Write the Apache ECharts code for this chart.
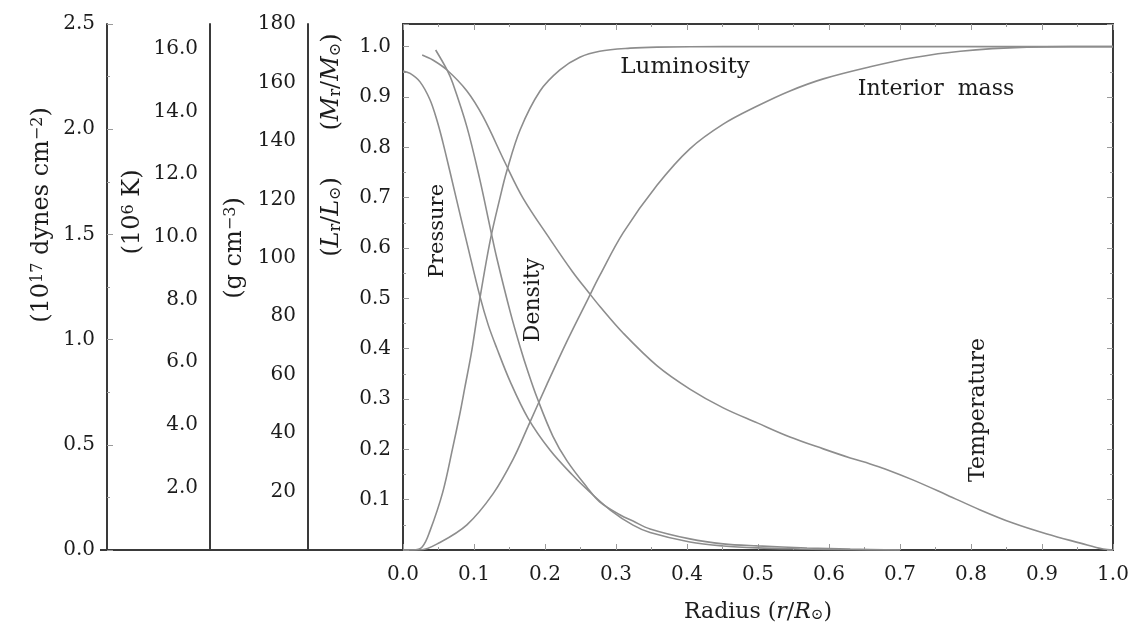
<!DOCTYPE html>
<html>
<head>
<meta charset="utf-8">
<script src="https://cdn.jsdelivr.net/npm/echarts@6/dist/echarts.min.js"></script>
<style>html,body{margin:0;padding:0;background:#fff;}#c{width:1136px;height:629px;}</style>
</head>
<body>
<div id="c"></div>
<script>
// ---- data: [radius r/R_sun, value] ----
const xTicks = [0,0.1,0.2,0.3,0.4,0.5,0.6,0.7,0.8,0.9,1.0];
// Pressure (10^17 dynes cm^-2)
const pressure = [[0,2.277],[0.010,2.265],[0.024,2.225],[0.038,2.14],[0.048,2.04],[0.056,1.94],[0.066,1.80],[0.080,1.60],[0.090,1.46],[0.108,1.21],[0.120,1.07],[0.132,0.96],[0.151,0.80],[0.176,0.627],[0.207,0.475],[0.239,0.355],[0.263,0.276],[0.292,0.19],[0.324,0.118],[0.348,0.083],[0.404,0.038],[0.451,0.019],[0.499,0.01],[0.559,0.005],[0.630,0.001],[0.700,0]];
// Temperature (10^6 K)
const temperature = [[0.027,15.81],[0.042,15.65],[0.062,15.33],[0.090,14.66],[0.113,13.83],[0.144,12.36],[0.169,11.24],[0.207,9.93],[0.239,8.88],[0.261,8.24],[0.278,7.76],[0.310,6.93],[0.358,5.88],[0.404,5.14],[0.451,4.54],[0.499,4.06],[0.545,3.61],[0.592,3.23],[0.630,2.94],[0.658,2.75],[0.679,2.59],[0.718,2.24],[0.766,1.76],[0.813,1.28],[0.859,0.86],[0.907,0.51],[0.954,0.22],[0.986,0.03],[1.0,0]];
// Density (g cm^-3)
const density = [[0.046,171.1],[0.062,164.3],[0.070,159.8],[0.090,144.8],[0.108,127.0],[0.123,110.0],[0.132,100.0],[0.151,81.5],[0.165,69.5],[0.176,61.0],[0.189,52.0],[0.211,39.0],[0.231,30.5],[0.259,21.5],[0.277,16.5],[0.306,12.0],[0.324,9.9],[0.348,7.2],[0.404,3.8],[0.451,2.1],[0.499,1.4],[0.569,0.7],[0.630,0.3],[0.700,0]];
// Luminosity (L_r/L_sun)
const luminosity = [[0,0],[0.014,0],[0.027,0.006],[0.038,0.038],[0.056,0.115],[0.070,0.203],[0.080,0.270],[0.087,0.322],[0.097,0.397],[0.108,0.497],[0.123,0.616],[0.137,0.702],[0.146,0.752],[0.165,0.835],[0.193,0.912],[0.221,0.954],[0.249,0.979],[0.277,0.991],[0.320,0.997],[0.358,0.999],[0.45,1.0],[0.6,1.0],[0.8,1.0],[1.0,1.0]];
// Interior mass (M_r/M_sun)
const interiorMass = [[0,0],[0.024,0],[0.052,0.015],[0.090,0.050],[0.127,0.112],[0.155,0.180],[0.176,0.245],[0.203,0.330],[0.231,0.415],[0.261,0.500],[0.277,0.545],[0.310,0.630],[0.358,0.725],[0.404,0.797],[0.451,0.846],[0.499,0.882],[0.545,0.912],[0.592,0.936],[0.658,0.960],[0.718,0.978],[0.785,0.991],[0.879,0.999],[0.94,1.0],[1.0,1.0]];

const FONT = 'DejaVu Serif';
const TXT = '#1c1c1c';
const AX = '#3a3a3a';
const CURVE = '#8d8d8d';
const TICK = '#9a9a9a';

function makeRich(size) {
  const s = Math.round(size * 0.66);
  return {
    n: {fontFamily: FONT, fontSize: size, color: TXT},
    i: {fontFamily: FONT, fontSize: size, fontStyle: 'italic', color: TXT},
    sup: {fontFamily: FONT, fontSize: s, color: TXT, verticalAlign: 'top'},
    sub: {fontFamily: FONT, fontSize: s, color: TXT, verticalAlign: 'bottom'}
  };
}

function isStep(v, step, maxShown) {
  const k = v / step;
  return v > 0 && Math.abs(k - Math.round(k)) < 1e-6 && v <= maxShown + 1e-9;
}

const chart = echarts.init(document.getElementById('c'), null, {renderer: 'canvas'});
const tickStyle = {show: true, inside: true, length: 6, lineStyle: {color: TICK, width: 1}};
const minorStyle = {show: true, splitNumber: 2, length: 3, lineStyle: {color: TICK, width: 1}};
const labelBase = {fontFamily: FONT, fontSize: 20, color: TXT, margin: 12};
const axLine = {show: true, onZero: false, lineStyle: {color: AX, width: 2}};

function lineSeries(name, data, yIdx) {
  return {name, type: 'line', data, xAxisIndex: 0, yAxisIndex: yIdx, showSymbol: false,
    smooth: 0.35, lineStyle: {color: CURVE, width: 1.6}, silent: true};
}

function vtext(x, y, text, size, rot) {
  return {type: 'text', x, y, rotation: rot === undefined ? Math.PI / 2 : rot,
    style: {text, rich: makeRich(size), align: 'center', verticalAlign: 'middle', fill: TXT, fontFamily: FONT, fontSize: size}};
}

chart.setOption({
  animation: false,
  backgroundColor: '#fff',
  grid: {left: 403, right: 23, top: 24, bottom: 79, show: true, borderColor: AX, borderWidth: 2, backgroundColor: 'transparent'},
  xAxis: [
    {type: 'value', min: 0, max: 1, interval: 0.1, position: 'bottom',
     axisLine: axLine, axisTick: tickStyle, minorTick: minorStyle, splitLine: {show: false},
     axisLabel: Object.assign({}, labelBase, {margin: 15, formatter: v => xTicks.some(t => Math.abs(t - v) < 1e-9) ? v.toFixed(1) : ''}),
     name: '{n|Radius (}{i|r}{n|/}{i|R}{sub|⊙}{n|)}', nameLocation: 'middle', nameGap: 51,
     nameTextStyle: {rich: makeRich(22)}},
    {type: 'value', min: 0, max: 1, interval: 0.1, position: 'top',
     axisLine: axLine, axisTick: tickStyle, minorTick: minorStyle, splitLine: {show: false}, axisLabel: {show: false}}
  ],
  yAxis: [
    {type: 'value', min: 0, max: 1.045, interval: 0.1, position: 'left',
     axisLine: axLine, axisTick: tickStyle, minorTick: minorStyle, splitLine: {show: false},
     axisLabel: Object.assign({}, labelBase, {showMaxLabel: false, formatter: v => isStep(v, 0.1, 1.0) ? v.toFixed(1) : ''})},
    {type: 'value', min: 0, max: 2.5, interval: 0.5, position: 'left', offset: 296,
     axisLine: axLine, axisTick: tickStyle, minorTick: minorStyle, splitLine: {show: false},
     axisLabel: Object.assign({}, labelBase, {formatter: v => v.toFixed(1)})},
    {type: 'value', min: 0, max: 16.8, interval: 2, position: 'left', offset: 193,
     axisLine: axLine, axisTick: {show: false}, splitLine: {show: false},
     axisLabel: Object.assign({}, labelBase, {showMaxLabel: false, formatter: v => isStep(v, 2, 16) ? v.toFixed(1) : ''})},
    {type: 'value', min: 0, max: 180, interval: 20, position: 'left', offset: 95,
     axisLine: axLine, axisTick: {show: false}, splitLine: {show: false},
     axisLabel: Object.assign({}, labelBase, {formatter: v => v > 0 ? String(v) : ''})},
    {type: 'value', min: 0, max: 1.045, interval: 0.1, position: 'right',
     axisLine: axLine, axisTick: tickStyle, minorTick: minorStyle, splitLine: {show: false}, axisLabel: {show: false}}
  ],
  series: [
    lineSeries('Pressure', pressure, 1),
    lineSeries('Temperature', temperature, 2),
    lineSeries('Density', density, 3),
    lineSeries('Luminosity', luminosity, 0),
    lineSeries('Interior mass', interiorMass, 0)
  ],
  graphic: [
    {type: 'line', shape: {x1: 100, y1: 550, x2: 404, y2: 550}, style: {stroke: AX, lineWidth: 2}},
    vtext(42, 215, '{n|(10}{sup|17}{n| dynes cm}{sup|−2}{n|)}', 24),
    vtext(133, 212, '{n|(10}{sup|6}{n| K)}', 24),
    vtext(235, 248, '{n|(g cm}{sup|−3}{n|)}', 24),
    vtext(332, 82, '{n|(}{i|M}{sub|r}{n|/}{i|M}{sub|⊙}{n|)}', 24),
    vtext(332, 217, '{n|(}{i|L}{sub|r}{n|/}{i|L}{sub|⊙}{n|)}', 24),
    vtext(438, 231, '{n|Pressure}', 21),
    vtext(533, 300, '{n|Density}', 22),
    vtext(978, 410, '{n|Temperature}', 22),
    vtext(685, 67, '{n|Luminosity}', 23, 0),
    vtext(936, 89, '{n|Interior  mass}', 22, 0)
  ]
});
</script>
</body>
</html>
